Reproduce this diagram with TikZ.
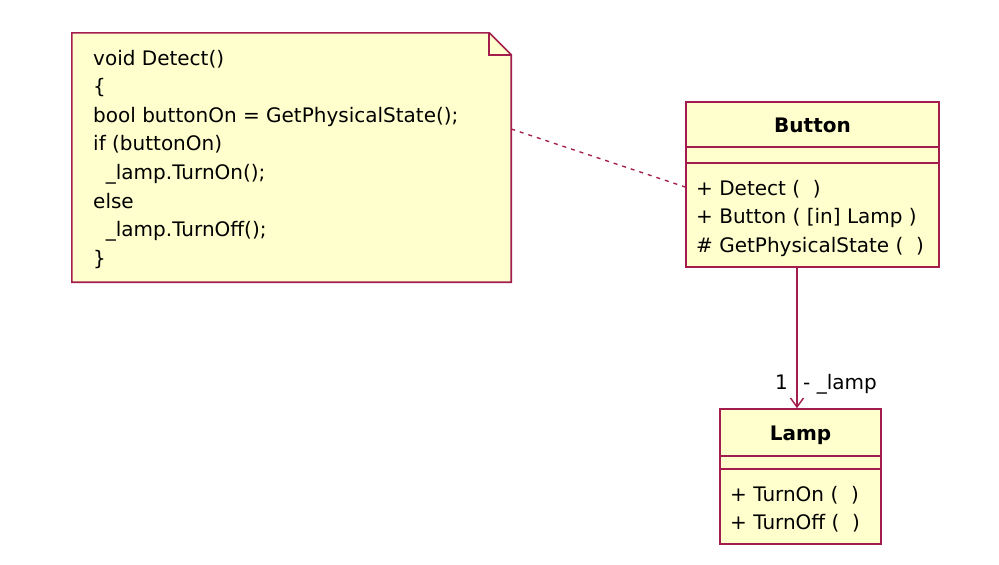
\documentclass[tikz,border=0pt]{standalone}
\usepackage{fontspec}
\setmainfont{DejaVu Sans}
\usetikzlibrary{arrows.meta}
\definecolor{umlred}{RGB}{163,28,78}
\definecolor{umlyellow}{RGB}{255,255,206}
\tikzset{umlbox/.style={draw=umlred, fill=umlyellow, line width=1.6pt, inner sep=0pt}}
\tikzset{umlline/.style={draw=umlred, line width=1.6pt}}
\tikzset{member/.style={anchor=base west, inner sep=0pt, font=\fontsize{20pt}{24pt}\selectfont}}
\tikzset{classname/.style={anchor=base, inner sep=0pt, font=\fontsize{20pt}{24pt}\selectfont\bfseries}}
\tikzset{assoc/.style={draw=umlred, line width=1.6pt, -{Straight Barb[length=9pt,width=13pt,line width=1.4pt]}}}
\tikzset{anchorline/.style={draw=umlred, line width=1.3pt, dash pattern=on 4pt off 5pt}}

\begin{document}
\begin{tikzpicture}[x=1pt,y=-1pt]
\useasboundingbox[fill=white] (0,0) rectangle (999,565);

% note with the code of Detect()
\node[inner sep=0pt, minimum width=439pt, minimum height=249pt] (note) at (291.5,157.5) {};
\filldraw[umlline, fill=umlyellow] (note.north west) -- ([xshift=-22pt]note.north east)
  -- ([yshift=-22pt]note.north east) -- (note.south east) -- (note.south west) -- cycle;
\draw[umlline] ([xshift=-22pt]note.north east) |- ([yshift=-22pt]note.north east);
\foreach \txt [count=\i] in {void Detect(), \{, bool buttonOn = GetPhysicalState();,
  if (buttonOn), \ \ \_lamp.TurnOn();, else, \ \ \_lamp.TurnOff();, \}}{
  \node[member] (code\i) at (93,{65+28.6*(\i-1)}) {\txt};
}

% class Button
\node[umlbox, minimum width=253pt, minimum height=165pt] (button) at (812.5,184.5) {};
\draw[umlline] ([yshift=-46pt]button.north west) -- ([yshift=-46pt]button.north east);
\draw[umlline] ([yshift=-62pt]button.north west) -- ([yshift=-62pt]button.north east);
\node[classname] (buttonname) at (812.5,132) {Button};
\foreach \op [count=\i] in {+ Detect (\ \ ), + Button ( [in] Lamp ), \# GetPhysicalState (\ \ )}{
  \node[member] (buttonop\i) at (696,{195+28.5*(\i-1)}) {\op};
}

% class Lamp
\node[umlbox, minimum width=161pt, minimum height=135pt] (lamp) at (800.5,476.5) {};
\draw[umlline] ([yshift=-48pt]lamp.north west) -- ([yshift=-48pt]lamp.north east);
\draw[umlline] ([yshift=-61pt]lamp.north west) -- ([yshift=-61pt]lamp.north east);
\node[classname] (lampname) at (800.5,440) {Lamp};
\foreach \op [count=\i] in {+ TurnOn (\ \ ), + TurnOff (\ \ )}{
  \node[member] (lampop\i) at (730,{501+28.5*(\i-1)}) {\op};
}

% association and note anchor
\coordinate (lampend) at ([xshift=-3.5pt]lamp.north);
\draw[assoc] ([xshift=-15.5pt]button.south) -- (lampend);
\node[member, anchor=base east] (mult) at ([xshift=-9pt,yshift=19pt]lampend) {1};
\node[member] (role) at ([xshift=6pt,yshift=19pt]lampend) {- \_lamp};
\draw[anchorline] ([yshift=28.5pt]note.east) -- ([yshift=-2.5pt]button.west);

\end{tikzpicture}
\end{document}
